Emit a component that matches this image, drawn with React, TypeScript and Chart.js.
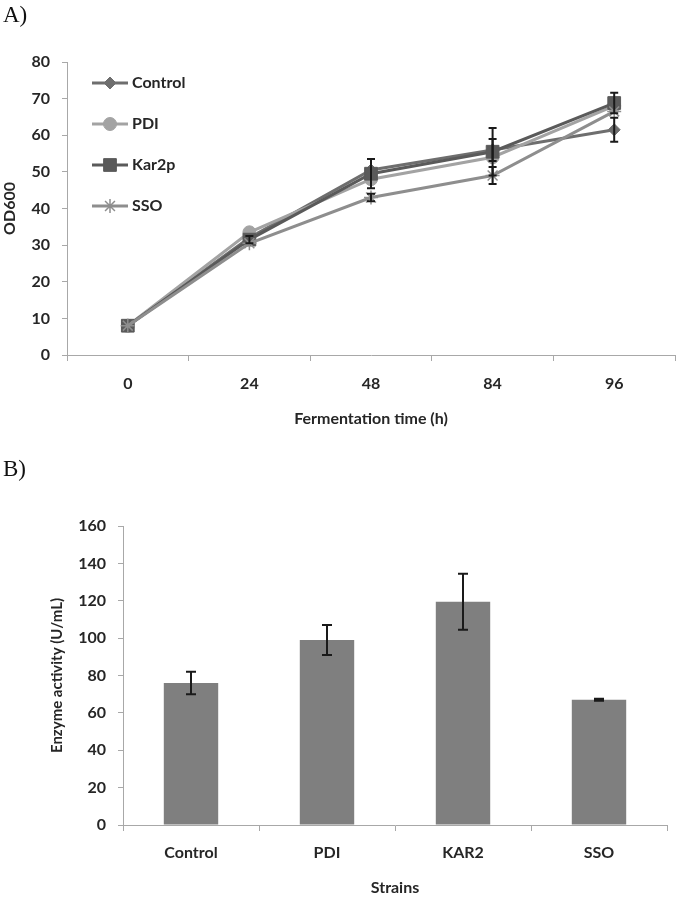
import React, { useEffect, useRef } from "react";
import { Chart, registerables } from "chart.js";
import { drawPoint } from "chart.js/helpers";

Chart.register(...registerables);

// ---------- Data: panel A ----------
const timeLabels = ["0", "24", "48", "84", "96"];
const controlOD = [8, 32, 50.5, 56, 61.5];
const pdiOD = [8, 33.5, 48, 54, 68];
const kar2pOD = [8, 31.5, 49.5, 55.5, 68.8];
const ssoOD = [8, 30.5, 43, 49, 66.5];
const controlErr = [0, 0, 0, 3, 3.3];
const pdiErr = [0, 0, 0, 0, 0];
const kar2pErr = [0, 1, 4, 6.5, 2.8];
const ssoErr = [0, 0, 1, 2.3, 0];

// ---------- Data: panel B ----------
const strains = ["Control", "PDI", "KAR2", "SSO"];
const activity = [76, 99, 119.5, 67];
const activityErr = [6, 8, 15, 0.5];

const FONT = "Lato, 'Open Sans', sans-serif";
const TEXT = "#262626";
const AXIS = "#a8a8a8";

const errorBarPlugin = {
  id: "errorBars",
  afterDatasetsDraw(chart: any) {
    const ctx = chart.ctx;
    const cap = chart.config.type === "bar" ? 5 : 4;
    chart.data.datasets.forEach((ds: any, di: number) => {
      const errs = ds.errors;
      if (!errs) return;
      const meta = chart.getDatasetMeta(di);
      const yScale = chart.scales[meta.yAxisID];
      meta.data.forEach((el: any, i: number) => {
        const v = ds.data[i];
        const e = errs[i];
        if (!e) return;
        const x = el.x;
        const yTop = yScale.getPixelForValue(v + e);
        const yBot = yScale.getPixelForValue(v - e);
        ctx.save();
        ctx.strokeStyle = "#1a1a1a";
        ctx.lineWidth = 2;
        ctx.beginPath();
        ctx.moveTo(x, yTop);
        ctx.lineTo(x, yBot);
        ctx.moveTo(x - cap, yTop);
        ctx.lineTo(x + cap, yTop);
        ctx.moveTo(x - cap, yBot);
        ctx.lineTo(x + cap, yBot);
        ctx.stroke();
        ctx.restore();
      });
    });
  },
};

const insideLegendPlugin = {
  id: "insideLegend",
  afterDraw(chart: any) {
    if (chart.config.type !== "line") return;
    const { ctx, chartArea } = chart;
    chart.data.datasets.forEach((ds: any, i: number) => {
      const y = chartArea.top + 21 + i * 41;
      const x0 = chartArea.left + 25;
      ctx.save();
      ctx.strokeStyle = ds.borderColor;
      ctx.lineWidth = 3;
      ctx.beginPath();
      ctx.moveTo(x0, y);
      ctx.lineTo(x0 + 36, y);
      ctx.stroke();
      ctx.fillStyle = ds.backgroundColor;
      ctx.strokeStyle = ds.borderColor;
      ctx.lineWidth = ds.pointStyle === "star" ? 1.5 : 1;
      drawPoint(ctx, { pointStyle: ds.pointStyle, radius: ds.pointRadius, borderWidth: ctx.lineWidth, rotation: 0 } as any, x0 + 18, y);
      ctx.fillStyle = TEXT;
      ctx.font = `bold 16px ${FONT}`;
      ctx.textBaseline = "middle";
      ctx.textAlign = "left";
      ctx.fillText(ds.label, x0 + 40, y);
      ctx.restore();
    });
  },
};

function LineChart() {
  const ref = useRef<HTMLCanvasElement | null>(null);
  useEffect(() => {
    if (!ref.current) return;
    const mk = (label: string, data: number[], errors: number[], color: string, style: string, r: number, order: number) => ({
      label,
      data,
      errors,
      borderColor: color,
      backgroundColor: color,
      pointBackgroundColor: color,
      pointBorderColor: color,
      borderWidth: 3,
      pointStyle: style,
      pointRadius: r,
      pointBorderWidth: style === "star" ? 1.5 : 1,
      tension: 0,
      order,
    });
    const chart = new Chart(ref.current, {
      type: "line",
      data: {
        labels: timeLabels,
        datasets: [
          mk("Control", controlOD, controlErr, "#6e6e6e", "rectRot", 6, 3),
          mk("PDI", pdiOD, pdiErr, "#a3a3a3", "circle", 6.5, 2),
          mk("Kar2p", kar2pOD, kar2pErr, "#5a5a5a", "rect", 9, 1),
          mk("SSO", ssoOD, ssoErr, "#8e8e8e", "star", 7, 0),
        ] as any,
      },
      options: {
        animation: false,
        responsive: false,
        layout: { padding: { top: 62, right: 3, left: 0, bottom: 0 } },
        plugins: { legend: { display: false }, tooltip: { enabled: false } },
        scales: {
          x: {
            offset: true,
            grid: { offset: true, drawOnChartArea: false, drawTicks: true, tickLength: 6, color: AXIS },
            border: { color: AXIS, width: 1 },
            ticks: { font: { family: FONT, size: 16, weight: "bold" }, color: TEXT, padding: 13 },
            title: {
              display: true,
              text: "Fermentation time (h)",
              font: { family: FONT, size: 16, weight: "bold" },
              color: TEXT,
              padding: { top: 0, bottom: 12 },
            },
            afterFit: (s: any) => {
              s.height = 85;
            },
          },
          y: {
            min: 0,
            max: 80,
            ticks: { stepSize: 10, padding: 12, font: { family: FONT, size: 16, weight: "bold" }, color: TEXT },
            grid: { drawOnChartArea: false, drawTicks: true, tickLength: 5, color: AXIS },
            border: { color: AXIS, width: 1 },
            title: {
              display: true,
              text: "OD600",
              font: { family: FONT, size: 16, weight: "bold" },
              color: TEXT,
              padding: { top: 0, bottom: 0 },
            },
            afterFit: (s: any) => {
              s.width = 67;
            },
          },
        },
      } as any,
      plugins: [errorBarPlugin, insideLegendPlugin],
    });
    return () => chart.destroy();
  }, []);
  return <canvas ref={ref} width={685} height={440} style={{ position: "absolute", left: 0, top: 0, width: 685, height: 440 }} />;
}

function BarChart() {
  const ref = useRef<HTMLCanvasElement | null>(null);
  useEffect(() => {
    if (!ref.current) return;
    const chart = new Chart(ref.current, {
      type: "bar",
      data: {
        labels: strains,
        datasets: [
          {
            label: "Enzyme activity",
            data: activity,
            errors: activityErr,
            backgroundColor: "#7f7f7f",
            borderWidth: 0,
            barPercentage: 0.4,
            categoryPercentage: 1,
          } as any,
        ],
      },
      options: {
        animation: false,
        responsive: false,
        layout: { padding: { top: 86, right: 18, left: 0, bottom: 0 } },
        plugins: { legend: { display: false }, tooltip: { enabled: false } },
        scales: {
          x: {
            grid: { offset: true, drawOnChartArea: false, drawTicks: true, tickLength: 6, color: AXIS },
            border: { color: AXIS, width: 1 },
            ticks: { font: { family: FONT, size: 16, weight: "bold" }, color: TEXT, padding: 12 },
            title: {
              display: true,
              text: "Strains",
              font: { family: FONT, size: 16, weight: "bold" },
              color: TEXT,
              padding: { top: 0, bottom: 2 },
            },
            afterFit: (s: any) => {
              s.height = 74;
            },
          },
          y: {
            min: 0,
            max: 160,
            ticks: { stepSize: 20, padding: 12, font: { family: FONT, size: 16, weight: "bold" }, color: TEXT },
            grid: { drawOnChartArea: false, drawTicks: true, tickLength: 5, color: AXIS },
            border: { color: AXIS, width: 1 },
            title: {
              display: true,
              text: "Enzyme activity (U/mL)",
              font: { family: FONT, size: 15, weight: "bold" },
              color: TEXT,
              padding: { top: 48, bottom: 0 },
            },
            afterFit: (s: any) => {
              s.width = 123;
            },
          },
        },
      } as any,
      plugins: [errorBarPlugin],
    });
    return () => chart.destroy();
  }, []);
  return <canvas ref={ref} width={685} height={459} style={{ position: "absolute", left: 0, top: 440, width: 685, height: 459 }} />;
}

export default function App() {
  const labelStyle: React.CSSProperties = {
    position: "absolute",
    left: 3,
    fontFamily: "'Liberation Serif', 'Times New Roman', serif",
    fontSize: 23,
    lineHeight: "23px",
    color: "#111",
  };
  return (
    <div style={{ position: "absolute", left: 0, top: 0, width: 685, height: 899, background: "#fff" }}>
      <LineChart />
      <BarChart />
      <div style={{ ...labelStyle, top: 3 }}>A)</div>
      <div style={{ ...labelStyle, top: 457 }}>B)</div>
    </div>
  );
}
